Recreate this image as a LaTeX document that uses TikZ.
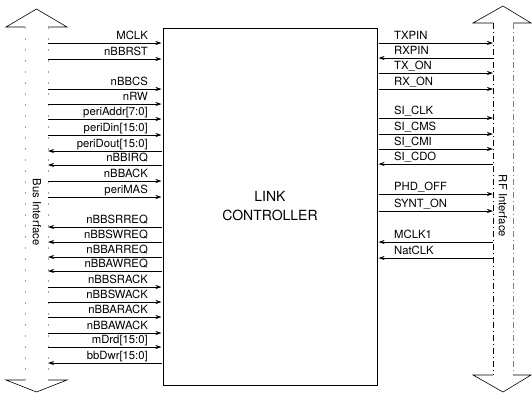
\documentclass[tikz,border=0pt]{standalone}
\usepackage{fontspec}
\setmainfont{TeX Gyre Heros}
\usetikzlibrary{arrows.meta}
\begin{document}
\begin{tikzpicture}[x=1pt,y=-1pt,
  sig/.style={line width=0.8pt},
  tipr/.style={sig,-{Stealth[length=6pt,width=4pt]}},
  tipl/.style={sig,{Stealth[length=6pt,width=4pt]}-},
  lbl/.style={font=\fontsize{11.3}{13}\selectfont,inner sep=0pt},
  shaft/.style={line width=0.6pt,dash pattern=on 6pt off 3pt on 1pt off 3pt},
  faint/.style={line width=0.5pt,gray!70,dash pattern=on 2pt off 9pt},
  head/.style={line width=0.6pt,line join=miter}]
\useasboundingbox (0,0) rectangle (532,394);
% main box
\node[draw,line width=1pt,minimum width=214,minimum height=357,inner sep=0pt,
  font=\fontsize{14}{19}\selectfont,align=center] (lc) at (270,206.5) {LINK\\CONTROLLER};
% bus interface arrow
\coordinate (busL) at (25,0);
\coordinate (busR) at (48,0);
\coordinate (rfL) at (493,0);
\coordinate (rfR) at (513,0);
\draw[head] (25,27) -- (6,27) -- (36.5,9) -- (67,27) -- (48,27);
\draw[head] (25,380) -- (6,380) -- (36.5,392) -- (67,380) -- (48,380);
\draw[faint] (busL |- 0,27) -- (busL |- 0,380);
\draw[faint] (busR |- 0,27) -- (busR |- 0,380);
\node[lbl,rotate=-90] (busname) at (37,212) {Bus Interface};
% RF interface arrow
\draw[head] (493,23) -- (473,23) -- (503,6) -- (531,23) -- (513,23);
\draw[head] (493,375) -- (473,375) -- (503,392) -- (531,375) -- (513,375);
\draw[shaft] (rfL |- 0,23) -- (rfL |- 0,375);
\draw[shaft,gray] (rfR |- 0,23) -- (rfR |- 0,375);
\node[lbl,rotate=-90] (rfname) at (503,206) {RF Interface};
% left signals
\foreach \y/\t/\d in {43/MCLK/r, 59/nBBRST/r, 89/nBBCS/r, 104/nRW/r,
  119/{periAddr[7:0]}/r, 135/{periDin[15:0]}/r, 151/{periDout[15:0]}/l,
  165/nBBIRQ/l, 181/nBBACK/r, 197/periMAS/r, 227/nBBSRREQ/l, 242/nBBSWREQ/l,
  257/nBBARREQ/l, 271/nBBAWREQ/l, 287/nBBSRACK/r, 302/nBBSWACK/r,
  317/nBBARACK/r, 333/nBBAWACK/r, 347/{mDrd[15:0]}/r, 363/{bbDwr[15:0]}/l}{
  \draw[tip\d] (busR |- 0,\y) -- ([xshift=-1pt]lc.west |- 0,\y);
  \node[lbl,anchor=base east] at (148,\y-3.5) {\t};
}
% right signals
\foreach \y/\t/\d in {43/TXPIN/r, 58/RXPIN/l, 73/TX\_ON/r, 89/RX\_ON/r,
  118/SI\_CLK/r, 134/SI\_CMS/r, 149/SI\_CMI/r, 164/SI\_CDO/l,
  194/PHD\_OFF/r, 211/SYNT\_ON/r, 242/MCLK1/l, 258/NatCLK/l}{
  \draw[tip\d] ([xshift=1pt]lc.east |- 0,\y) -- (rfL |- 0,\y);
  \node[lbl,anchor=base west] at (394,\y-3.5) {\t};
}
\end{tikzpicture}
\end{document}
